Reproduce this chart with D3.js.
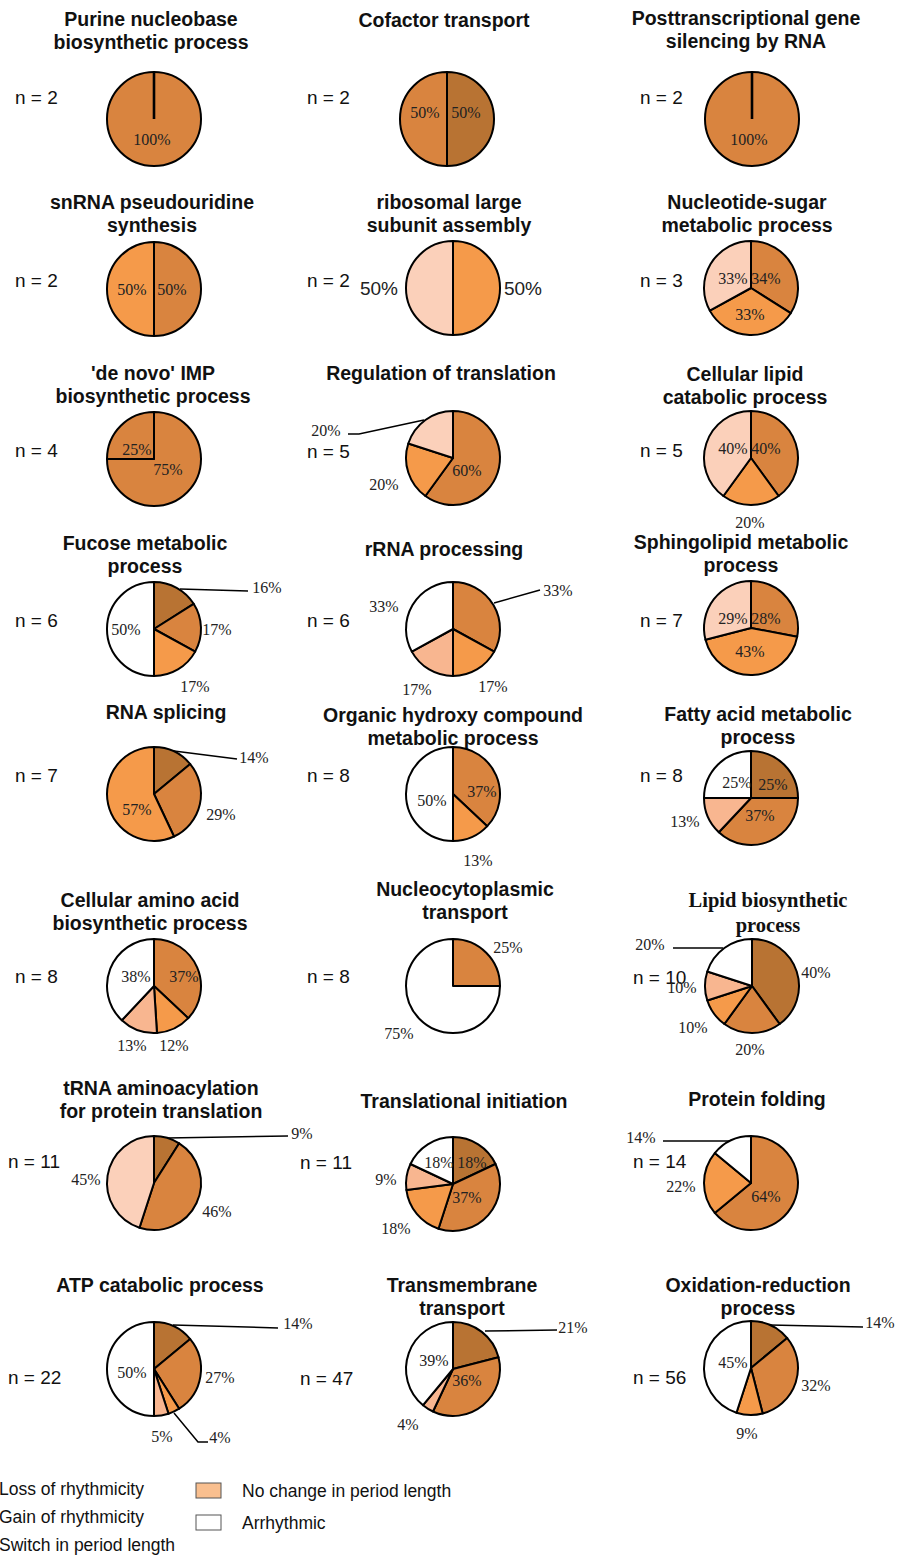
<!DOCTYPE html>
<html><head><meta charset="utf-8">
<script src="https://cdn.jsdelivr.net/npm/d3@7"></script>
<style>html,body{margin:0;padding:0;background:#fff;overflow:hidden}</style>
</head><body>
<script>
// ---------------- DATA ----------------
const titles = [
  ["Purine nucleobase","biosynthetic process"],["Cofactor transport"],["Posttranscriptional gene","silencing by RNA"],
  ["snRNA pseudouridine","synthesis"],["ribosomal large","subunit assembly"],["Nucleotide-sugar","metabolic process"],
  ["'de novo' IMP","biosynthetic process"],["Regulation of translation"],["Cellular lipid","catabolic process"],
  ["Fucose metabolic","process"],["rRNA processing"],["Sphingolipid metabolic","process"],
  ["RNA splicing"],["Organic hydroxy compound","metabolic process"],["Fatty acid metabolic","process"],
  ["Cellular amino acid","biosynthetic process"],["Nucleocytoplasmic","transport"],["Lipid biosynthetic","process"],
  ["tRNA aminoacylation","for protein translation"],["Translational initiation"],["Protein folding"],
  ["ATP catabolic process"],["Transmembrane","transport"],["Oxidation-reduction","process"]
];
const nCounts = [2,2,2, 2,2,3, 4,5,5, 6,6,7, 7,8,8, 8,8,10, 11,11,14, 22,47,56];
const sliceValues = [
  [100],[50,50],[100],
  [50,50],[50,50],[34,33,33],
  [75,25],[60,20,20],[40,20,40],
  [16,17,17,50],[33,17,17,33],[28,43,29],
  [14,29,57],[37,13,50],[25,37,13,25],
  [37,12,13,38],[25,75],[40,20,10,10,20],
  [9,46,45],[18,37,18,9,18],[64,22,14],
  [14,27,4,5,50],[21,36,4,39],[14,32,9,45]
];
// category index of each slice (see categoryNames)
const sliceCategories = [
  [1],[0,1],[1],
  [1,2],[2,4],[1,2,4],
  [1,1],[1,2,4],[1,2,4],
  [0,1,2,5],[1,2,3,5],[1,2,4],
  [0,1,2],[1,2,5],[0,1,3,5],
  [1,2,3,5],[1,5],[0,1,2,3,5],
  [0,1,4],[0,1,2,3,5],[1,2,5],
  [0,1,2,3,5],[0,1,3,5],[0,1,2,5]
];
const categoryNames = ["Loss of rhythmicity","Gain of rhythmicity","Switch in period length",
  "No change in period length","No change in period length","Arrhythmic"];
const legendLeft = ["Loss of rhythmicity","Gain of rhythmicity","Switch in period length"];
const legendRight = ["No change in period length","Arrhythmic"];

// ---------------- STYLE / LAYOUT ----------------
const colors = ["#B87333","#D9843F","#F59A4A","#F8B690","#FBD0BA","#FFFFFF"];
const legendLeftColors = ["#B87333","#D9843F","#F59A4A"];
const legendRightColors = ["#F9BF8F","#FFFFFF"];
const R = 47;
const layout = [
  {c:[154,119], t:[151,26], n:[15,97], lab:[[-2,20]]},
  {c:[447,119], t:[444,27], n:[307,97], lab:[[19,-7],[-22,-7]]},
  {c:[752,119], t:[746,25], n:[640,97], lab:[[-3,20]]},
  {c:[154,289], t:[152,209], n:[15,280], lab:[[18,0],[-22,0]]},
  {c:[453,288], t:[449,209], n:[307,280], lab:[[70,0],[-74,0]], arial:true},
  {c:[751,288], t:[747,209], n:[640,280], lab:[[15,-10],[-1,26],[-18,-10]]},
  {c:[154,459], t:[153,380], n:[15,450], lab:[[14,10],[-17,-10]]},
  {c:[453,458], t:[441,380], n:[307,451], lab:[[14,12],[-69,26],[-127,-28]],
     lead:{2:[[-29,-38],[-94,-24],[-105,-24]]}},
  {c:[751,458], t:[745,381], n:[640,450], lab:[[15,-10],[-1,64],[-18,-10]]},
  {c:[154,629], t:[145,550], n:[15,620], lab:[[113,-42],[63,0],[41,57],[-28,0]],
     lead:{0:[[26,-40],[94,-38]]}},
  {c:[453,629], t:[444,556], n:[307,620], lab:[[105,-39],[40,57],[-36,60],[-69,-23]],
     lead:{0:[[41,-26],[87,-39]]}},
  {c:[751,628], t:[741,549], n:[640,620], lab:[[15,-10],[-1,23],[-18,-10]]},
  {c:[154,794], t:[166,719], n:[15,775], lab:[[100,-37],[67,20],[-17,15]],
     lead:{0:[[20,-43],[83,-35]]}},
  {c:[453,794], t:[453,722], n:[307,775], lab:[[29,-3],[25,66],[-21,6]]},
  {c:[751,798], t:[758,721], n:[640,775], lab:[[22,-14],[9,17],[-66,23],[-14,-16]]},
  {c:[154,986], t:[150,907], n:[15,976], lab:[[30,-10],[20,59],[-22,59],[-18,-10]]},
  {c:[453,986], t:[465,896], n:[307,976], lab:[[55,-39],[-54,47]]},
  {c:[752,986], t:[768,907], n:[633,977], lab:[[64,-14],[-2,63],[-59,41],[-70,1],[-102,-42]],
     lead:{4:[[-29,-38],[-79,-38]]}, serifTitle:true},
  {c:[154,1183], t:[161,1095], n:[8,1161], lab:[[148,-50],[63,28],[-68,-4]],
     lead:{0:[[13,-45],[134,-47]]}},
  {c:[453,1184], t:[464,1108], n:[300,1162], lab:[[19,-22],[14,13],[-57,44],[-67,-5],[-14,-22]]},
  {c:[751,1183], t:[757,1106], n:[633,1161], lab:[[15,13],[-70,3],[-110,-46]],
     lead:{2:[[-21,-42],[-88,-42]]}},
  {c:[154,1369], t:[160,1292], n:[8,1377], lab:[[144,-46],[66,8],[66,68],[8,67],[-22,3]],
     lead:{0:[[19,-44],[124,-41]], 2:[[20,44],[44,73],[54,73]]}},
  {c:[453,1369], t:[462,1292], n:[300,1378], lab:[[120,-42],[14,11],[-45,55],[-19,-9]],
     lead:{0:[[32,-38],[104,-39]]}},
  {c:[751,1368], t:[758,1292], n:[633,1377], lab:[[129,-46],[65,17],[-4,65],[-18,-6]],
     lead:{0:[[19,-43],[112,-41]]}}
];

// ---------------- DRAW ----------------
const svg = d3.select("body").append("svg").attr("width",897).attr("height",1555)
  .style("font-family","Arial, 'Liberation Sans', sans-serif");
svg.append("rect").attr("width",897).attr("height",1555).attr("fill","#fff");

const pie = d3.pie().sort(null).value(d=>d.v);
const arc = d3.arc().innerRadius(0).outerRadius(R);
const color = d3.scaleOrdinal().domain(d3.range(colors.length)).range(colors);

titles.forEach((tl,i)=>{
  const L = layout[i];
  const g = svg.append("g");
  // title
  const t = g.append("text").attr("text-anchor","middle")
    .attr("font-weight","bold")
    .attr("font-size", L.serifTitle ? 20.5 : 19.5)
    .attr("font-family", L.serifTitle ? "'Liberation Serif','Times New Roman',serif" : null)
    .attr("fill","#111");
  tl.forEach((line,j)=>{
    t.append("tspan").attr("x",L.t[0]).attr("y",L.t[1] + j*(L.serifTitle?25:23)).text(line);
  });
  // n label
  g.append("text").attr("x",L.n[0]).attr("y",L.n[1]).attr("dy","0.35em")
    .attr("font-size",19).attr("fill","#111").text("n = " + nCounts[i]);

  // pie
  const data = sliceValues[i].map((v,k)=>({v:v, cat:sliceCategories[i][k]}));
  const arcs = pie(data);
  const pg = g.append("g").attr("transform",`translate(${L.c[0]},${L.c[1]})`);
  pg.selectAll("path.slice").data(arcs).join("path").attr("class","slice")
    .attr("d",arc).attr("fill",d=>color(d.data.cat))
    .attr("stroke","#000").attr("stroke-width",2).attr("stroke-linejoin","round");
  if (arcs.length===1){
    pg.append("line").attr("x1",0).attr("y1",0).attr("x2",0).attr("y2",-R)
      .attr("stroke","#000").attr("stroke-width",2.6);
  }
  // leader lines
  if (L.lead){
    Object.entries(L.lead).forEach(([k,pts])=>{
      pg.append("path").attr("d",d3.line()(pts)).attr("fill","none")
        .attr("stroke","#000").attr("stroke-width",1.5);
    });
  }
  // percent labels
  pg.selectAll("text.pct").data(arcs).join("text").attr("class","pct")
    .attr("x",(d,k)=>L.lab[k][0]).attr("y",(d,k)=>L.lab[k][1])
    .attr("text-anchor","middle").attr("dy","0.35em")
    .attr("font-family", L.arial ? "Arial,'Liberation Sans',sans-serif" : "'Liberation Serif','Times New Roman',serif")
    .attr("font-size", L.arial ? 19 : 16)
    .attr("fill","#222")
    .text(d=>d.data.v + "%");
});

// legend
const lg = svg.append("g");
legendLeft.forEach((name,k)=>{
  lg.append("rect").attr("x",-40).attr("y",1482+k*28).attr("width",25).attr("height",15)
    .attr("fill",legendLeftColors[k]).attr("stroke","#555").attr("stroke-width",1);
  lg.append("text").attr("x",-1).attr("y",1489+k*28).attr("dy","0.35em")
    .attr("font-size",17.5).attr("fill","#111").text(name);
});
legendRight.forEach((name,k)=>{
  lg.append("rect").attr("x",196).attr("y",1483+k*32).attr("width",25).attr("height",15)
    .attr("fill",legendRightColors[k]).attr("stroke","#555").attr("stroke-width",1);
  lg.append("text").attr("x",242).attr("y",1491+k*32).attr("dy","0.35em")
    .attr("font-size",17.5).attr("fill","#111").text(name);
});
</script>
</body></html>
